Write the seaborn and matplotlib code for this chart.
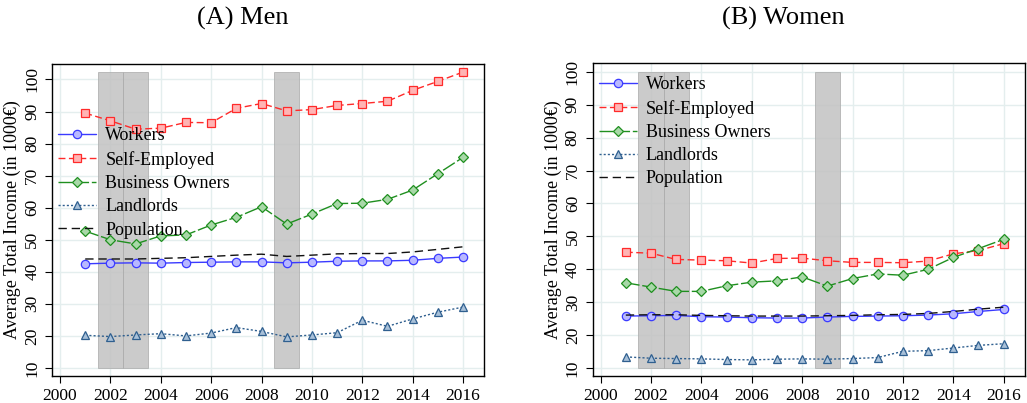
import numpy as np
import pandas as pd
import matplotlib
matplotlib.use("Agg")
import matplotlib.pyplot as plt
import seaborn as sns

years = list(range(2001, 2017))

# Men (1000 EUR)
men_workers = [42.5, 42.7, 42.8, 42.7, 42.9, 43.0, 43.1, 43.1, 42.8, 43.0, 43.3, 43.4, 43.4, 43.6, 44.2, 44.6]
men_self = [89.5, 87.1, 84.5, 84.8, 86.6, 86.5, 91.0, 92.5, 90.2, 90.6, 91.9, 92.5, 93.2, 96.6, 99.4, 102.3]
men_business = [52.7, 50.0, 48.7, 51.2, 51.5, 54.6, 57.0, 60.3, 54.9, 58.0, 61.3, 61.4, 62.6, 65.5, 70.6, 75.7]
men_landlords = [20.2, 19.8, 20.3, 20.7, 20.0, 20.9, 22.6, 21.4, 19.7, 20.3, 21.0, 24.9, 23.0, 25.3, 27.4, 29.0]
men_population = [44.0, 44.0, 44.0, 44.2, 44.4, 44.8, 45.2, 45.5, 44.8, 45.2, 45.6, 45.7, 45.7, 46.2, 47.0, 47.8]

# Women (1000 EUR)
women_workers = [25.8, 25.9, 26.0, 25.6, 25.5, 25.3, 25.2, 25.2, 25.5, 25.7, 25.8, 25.9, 26.1, 26.5, 27.2, 27.8]
women_self = [45.2, 44.9, 43.0, 42.8, 42.6, 41.9, 43.3, 43.4, 42.6, 42.1, 42.1, 42.0, 42.5, 44.7, 45.7, 47.8]
women_business = [35.9, 34.6, 33.3, 33.3, 35.0, 36.1, 36.5, 37.7, 34.9, 37.2, 38.6, 38.2, 40.0, 43.6, 46.3, 49.1]
women_landlords = [13.4, 13.0, 12.9, 12.8, 12.6, 12.5, 12.7, 12.8, 12.7, 12.9, 13.2, 15.1, 15.3, 16.1, 16.9, 17.4]
women_population = [26.1, 26.2, 26.2, 26.0, 25.9, 25.8, 25.8, 25.8, 25.9, 26.0, 26.2, 26.3, 26.6, 27.2, 27.9, 28.5]

series_names = ["Workers", "Self-Employed", "Business Owners", "Landlords", "Population"]
recession_years = [2002, 2003, 2009]
yticks = list(range(10, 101, 10))
xticks = list(range(2000, 2017, 2))

sns.set_theme(style="ticks")
plt.rcParams['font.family'] = ['Liberation Serif', 'DejaVu Serif']
plt.rcParams['axes.unicode_minus'] = False
for key in ['text.color', 'axes.labelcolor', 'xtick.color', 'ytick.color']:
    plt.rcParams[key] = 'black'

styles = {
    "Workers": dict(color="#3a3aff", marker="o", mfc="#b8b8ff", dashes=(None, None)),
    "Self-Employed": dict(color="#ff2a2a", marker="s", mfc="#ffb4b4", dashes=(5, 2.5)),
    "Business Owners": dict(color="#1f8f1f", marker="D", mfc="#a8d8a8", dashes=(10, 2)),
    "Landlords": dict(color="#2f5f8f", marker="^", mfc="#a8c0d8", dashes=(1.5, 1.5)),
    "Population": dict(color="#111111", marker=None, mfc="none", dashes=(6, 3.5)),
}


def draw_panel(ax, data, shade_top, legend_y):
    # recession shading
    ax.bar(recession_years, [shade_top - 10] * len(recession_years), bottom=10, width=1.0,
           color="#c2c2c2", alpha=0.85, edgecolor="#aaaaaa", linewidth=0.6, zorder=1)
    for name, vals in zip(series_names, data):
        st = styles[name]
        sns.lineplot(x=years, y=vals, ax=ax, color=st["color"], marker=st["marker"],
                     markersize=6 if st["marker"] != "D" else 5.5,
                     markerfacecolor=st["mfc"], markeredgecolor=st["color"],
                     markeredgewidth=0.9, linewidth=1.0, label=name, zorder=3)
        line = ax.get_lines()[-1]
        if st["dashes"][0] is not None:
            line.set_dashes(st["dashes"])
    ax.set_xlim(1999.68, 2016.83)
    ax.set_xticks(xticks)
    ax.set_yticks(yticks)
    ax.tick_params(axis="y", labelrotation=90, labelsize=12.5, length=5, width=0.8)
    ax.tick_params(axis="x", labelsize=12.5, length=5, width=0.8)
    for lab in ax.get_yticklabels():
        lab.set_va("center")
    ax.grid(True, color="#e4eeee", linewidth=1.0)
    ax.set_axisbelow(True)
    for sp in ax.spines.values():
        sp.set_visible(True)
        sp.set_color("black")
        sp.set_linewidth(1.0)
    ax.set_xlabel("")
    ax.set_ylabel("Average Total Income (in 1000€)", fontsize=13, labelpad=2)
    handles, labels = ax.get_legend_handles_labels()
    leg = ax.legend(handles, labels, loc="upper left", bbox_to_anchor=(0.015, legend_y),
                    frameon=False, fontsize=13, handlelength=2.1, handletextpad=0.5,
                    labelspacing=0.35, borderpad=0, borderaxespad=0)
    leg.set_zorder(5)


fig = plt.figure(figsize=(10.27, 4.03), dpi=100)
ax1 = fig.add_axes([0.0506, 0.067, 0.4206, 0.774])
ax2 = fig.add_axes([0.577, 0.067, 0.4206, 0.777])

draw_panel(ax1, [men_workers, men_self, men_business, men_landlords, men_population], max(men_self), 0.797)
ax1.set_ylim(7.5, 104.8)
draw_panel(ax2, [women_workers, women_self, women_business, women_landlords, women_population], 100, 0.957)
ax2.set_ylim(7.6, 102.7)

fig.text(0.2366, 0.955, "(A) Men", ha="center", va="center", fontsize=19)
fig.text(0.7624, 0.955, "(B) Women", ha="center", va="center", fontsize=19)

fig.savefig("out.png", dpi=100)
